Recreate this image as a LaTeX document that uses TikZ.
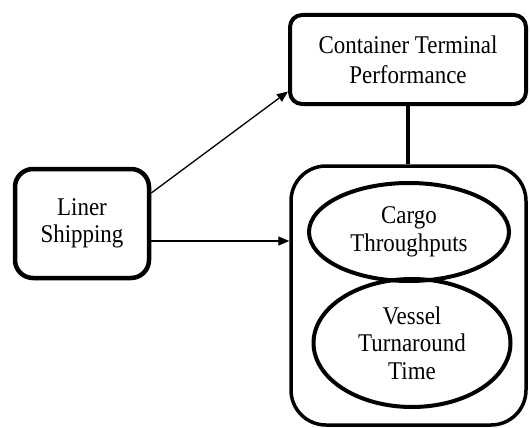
\documentclass[tikz,border=0pt]{standalone}
\usepackage{fontspec}
\setmainfont{Liberation Serif}[FakeStretch=0.9]
\usetikzlibrary{shapes.geometric,arrows.meta}
\begin{document}
\begin{tikzpicture}[x=1pt,y=-1pt,
  txt/.style={font=\fontsize{25.5}{27.5}\selectfont, align=center, inner sep=0pt},
  roundbox/.style={txt, draw, rounded corners=#1},
  oval/.style={txt, draw, ellipse, line width=4pt},
  link/.style={line width=1.3pt, -{Triangle[length=11pt,width=9pt]}}
]
\useasboundingbox (0,0) rectangle (530,428);

% outer frame holding the two performance measures
\node[roundbox=35pt, line width=3.5pt, minimum width=235pt, minimum height=259pt] (measures) at (408.5,295.5) {};

% top box
\node[roundbox=12pt, line width=4pt, minimum width=236pt, minimum height=89pt,
      font=\fontsize{25.5}{30}\selectfont] (ctp) at (408,59.5) {Container Terminal\\Performance};

% left box
\node[roundbox=18pt, line width=4.5pt, minimum width=134pt, minimum height=109pt] (liner) at (82,223.5) {Liner\\Shipping};

% the two measures
\node[oval, minimum width=200pt, minimum height=98pt] (cargo) at (409,232) {Cargo\\Throughputs};
\node[oval, minimum width=197pt, minimum height=128pt] (vessel) at (412,343) {Vessel\\Turnaround\\Time};

% connectors
\draw[line width=4pt] (ctp.south) -- (ctp.south |- measures.north);
\draw[link] ([yshift=30.5pt]liner.east) -- ([yshift=-32pt]ctp.west);
\draw[link] ([yshift=-17.5pt]liner.east) -- ([yshift=-17.5pt]liner.east -| measures.west);
\end{tikzpicture}
\end{document}
